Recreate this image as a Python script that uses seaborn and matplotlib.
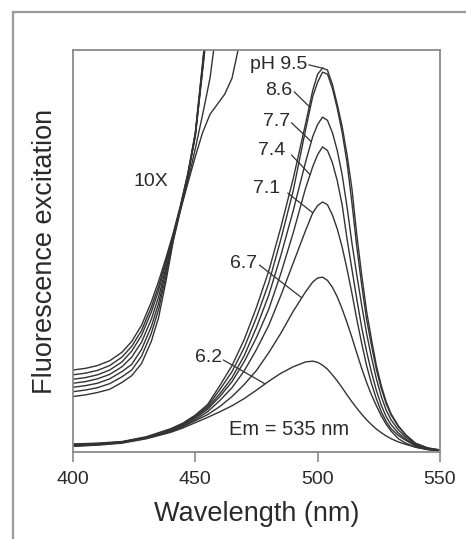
import numpy as np
import pandas as pd
import matplotlib
matplotlib.use("Agg")
import matplotlib.pyplot as plt
import seaborn as sns
from matplotlib.patches import Rectangle

# ---------------- data ----------------
WAVELENGTH = [400, 410, 420, 430, 440, 445, 450, 455, 460, 465, 470, 475, 480, 485,
              490, 495, 498, 500, 502, 504, 506, 508, 510, 512, 514, 516, 518, 520,
              522, 524, 526, 528, 530, 533, 536, 540, 545, 550]

PH_LABELS = ["9.5", "8.6", "7.7", "7.4", "7.1", "6.7", "6.2"]

EXC_95 = [2.0, 2.2, 2.6, 3.8, 5.8, 7.2, 9.2, 11.8, 16.5, 21.5, 28, 36, 45, 56, 68, 81.5,
          90, 94, 95.5, 95, 91.5, 86.5, 81, 74, 65.5, 54, 44, 35, 28, 21.5, 16.5, 12.5,
          9.5, 6.5, 4.3, 2.2, 1.0, 0.5]
EXC_86 = [1.9, 2.1, 2.5, 3.7, 5.7, 7.1, 9.0, 11.4, 15.5, 20, 26, 33.5, 42, 53, 65, 80,
          88.5, 92, 94.5, 94, 90.5, 85.5, 79.5, 72, 62, 51, 41.5, 33, 26.5, 20.5, 15.8,
          12, 9.2, 6.3, 4.2, 2.1, 1.0, 0.5]
EXC_77 = [1.8, 2.0, 2.5, 3.6, 5.6, 6.9, 8.7, 11, 14.5, 18.5, 24, 31, 39, 49, 60, 72,
          78.5, 81.5, 83.3, 82.5, 79.5, 75, 69, 61, 52, 44, 36.5, 29.5, 23.5, 18.2, 13.8,
          10.4, 8, 5.5, 3.7, 1.9, 0.9, 0.4]
EXC_74 = [1.7, 2.0, 2.5, 3.6, 5.5, 6.8, 8.5, 10.6, 13.8, 17.5, 22.5, 28.5, 35.5, 44.5,
          54.5, 65.5, 71, 74, 75.9, 75, 72, 67.5, 61.5, 53, 45.5, 38, 31, 25, 19.8, 15.3,
          11.6, 8.8, 6.8, 4.7, 3.2, 1.7, 0.8, 0.4]
EXC_71 = [1.6, 1.9, 2.4, 3.5, 5.3, 6.5, 8.1, 10, 12.8, 16, 20.2, 25.5, 31.5, 39, 47, 55,
          59.5, 61.3, 62.2, 61.5, 59, 55.5, 51, 45.5, 39.5, 33, 27, 21.5, 17, 13.2, 10,
          7.6, 5.8, 4.1, 2.9, 1.5, 0.7, 0.3]
EXC_67 = [1.5, 1.8, 2.3, 3.4, 5.1, 6.3, 7.8, 9.3, 11.3, 13.8, 16.8, 20.3, 24.7, 29.6,
          35, 39.8, 42.3, 43.3, 43.5, 42.7, 41, 38.6, 35.6, 32.2, 28.5, 24.6, 20.8, 17.3,
          14.2, 11.5, 9, 6.9, 5.2, 3.3, 2.2, 1.2, 0.6, 0.3]
EXC_62 = [1.4, 1.7, 2.2, 3.3, 4.9, 6.0, 7.3, 8.6, 10, 11.5, 13.3, 15.4, 17.6, 19.6,
          21.2, 22.4, 22.6, 22.3, 21.6, 20.6, 19.2, 17.7, 16, 14.2, 12.5, 10.9, 9.4, 8,
          6.8, 5.7, 4.8, 4, 3.3, 2.5, 1.9, 1.2, 0.6, 0.3]

# 10X magnified traces (short-wavelength region only; they leave the top of the frame)
WAVELENGTH_10X = [400, 405, 410, 415, 420, 424, 428, 432, 435, 438, 441, 444, 447, 450,
                  453, 456, 459, 462, 465, 468]
EXC10_95 = [20.4, 20.8, 21.5, 22.7, 24.8, 27.5, 31.5, 37.3, 42.5, 48.3, 54.5, 61.5, 69.5,
            79.5, 97.0, 116]
EXC10_86 = [19.2, 19.6, 20.3, 21.5, 23.6, 26.3, 30.2, 36.0, 41.3, 47.6, 54.2, 61.3, 69.3,
            79.2, 96.5, 115]
EXC10_77 = [18.1, 18.5, 19.2, 20.4, 22.4, 25.1, 29.0, 34.8, 40.2, 46.9, 54.0, 61.1, 69.1,
            79.0, 96.0, 114]
EXC10_74 = [17.1, 17.5, 18.2, 19.3, 21.2, 23.6, 27.3, 33.0, 38.6, 45.8, 53.8, 61.0, 69.0,
            78.8, 95.5, 113]
EXC10_71 = [16.1, 16.5, 17.1, 18.2, 20.0, 21.8, 25.5, 31.2, 37.0, 45.0, 53.4, 60.9, 68.9,
            78.6, 95.0, 112]
EXC10_67 = [15.0, 15.4, 16.0, 17.0, 18.7, 20.4, 23.8, 29.5, 35.5, 43.8, 53.0, 60.5, 67.5,
            75.5, 84.0, 93.0, 107]
EXC10_62 = [13.8, 14.2, 14.8, 15.6, 17.3, 19.0, 22.0, 27.5, 33.5, 42.5, 52.5, 60.3, 67.0,
            73.5, 79.5, 84.0, 86.5, 89.0, 93.0, 101.5]

X_TICKS = [400, 450, 500, 550]

# ---------------- build long-form table ----------------
main_series = [EXC_95, EXC_86, EXC_77, EXC_74, EXC_71, EXC_67, EXC_62]
tenx_series = [EXC10_95, EXC10_86, EXC10_77, EXC10_74, EXC10_71, EXC10_67, EXC10_62]
rows = []
for ph, vals in zip(PH_LABELS, main_series):
    for w, v in zip(WAVELENGTH, vals):
        rows.append(("main " + ph, w, v))
for ph, vals in zip(PH_LABELS, tenx_series):
    for w, v in zip(WAVELENGTH_10X, vals):
        rows.append(("10x " + ph, w, v))
df = pd.DataFrame(rows, columns=["curve", "wl", "val"])

# ---------------- style ----------------
sns.set_theme(style="white")
plt.rcParams["font.family"] = ["Liberation Sans", "DejaVu Sans"]

LINE = "#333333"
TXT = "#2a2a2a"
SPINE = "#8a8a8a"

fig = plt.figure(figsize=(4.66, 5.39), dpi=100)
fig.patch.set_facecolor("white")
ax = fig.add_axes([73 / 466, 87 / 539, 367 / 466, 402 / 539])

sns.lineplot(data=df, x="wl", y="val", units="curve", estimator=None,
             color=LINE, lw=1.0, sort=False, legend=False, ax=ax)

ax.set_xlim(400, 550)
ax.set_ylim(0, 100)
ax.set_xticks(X_TICKS)
ax.set_xticklabels([str(t) for t in X_TICKS])
ax.set_yticks([])
ax.tick_params(axis="x", direction="out", length=7, width=1.2, color=SPINE,
               labelsize=14, labelcolor=TXT, pad=6.5, bottom=True)
for s in ax.spines.values():
    s.set_color(SPINE)
    s.set_linewidth(1.3)

ax.set_xlabel("Wavelength (nm)", fontsize=19.5, color=TXT)
ax.set_ylabel("Fluorescence excitation", fontsize=19.5, color=TXT)
ax.xaxis.set_label_coords(0.5, -0.122)
ax.yaxis.set_label_coords(-0.04, 0.5)

# ---------------- labels with leader lines ----------------
def on_curve(vals, w):
    return float(np.interp(w, WAVELENGTH, vals))

# (text, text right x, text y, leader start, wavelength where leader meets curve, curve)
LABELS = [
    ("pH 9.5", 495.7, 96.3, (496.4, 96.3), 502.3, EXC_95),
    ("8.6", 489.5, 90.0, (490.4, 89.6), 497.0, EXC_86),
    ("7.7", 488.7, 82.3, (489.3, 81.9), 497.4, EXC_77),
    ("7.4", 486.6, 74.9, (489.3, 73.9), 496.9, EXC_74),
    ("7.1", 484.6, 65.5, (487.8, 64.4), 498.0, EXC_71),
    ("6.7", 475.1, 46.9, (476.2, 46.5), 493.5, EXC_67),
    ("6.2", 460.8, 23.5, (461.4, 22.9), 478.5, EXC_62),
]
for txt, tx, ty, (sx, sy), ew, vals in LABELS:
    ax.text(tx, ty, txt, ha="right", va="center", fontsize=14, color=TXT)
    ax.plot([sx, ew], [sy, on_curve(vals, ew)], color=LINE, lw=0.9)

ax.text(431.9, 67.4, "10X", ha="center", va="center", fontsize=14, color=TXT)
ax.text(488.3, 5.5, "Em = 535 nm", ha="center", va="center", fontsize=14.5, color=TXT)

# outer frame of the original figure panel
frame = Rectangle((13 / 466, -0.1), 1.2, (1 - 12 / 539) + 0.1,
                  transform=fig.transFigure, fill=False, ec="#9a9a9a", lw=1.6,
                  clip_on=False)
fig.add_artist(frame)

fig.savefig("out.png", dpi=100, facecolor="white")
